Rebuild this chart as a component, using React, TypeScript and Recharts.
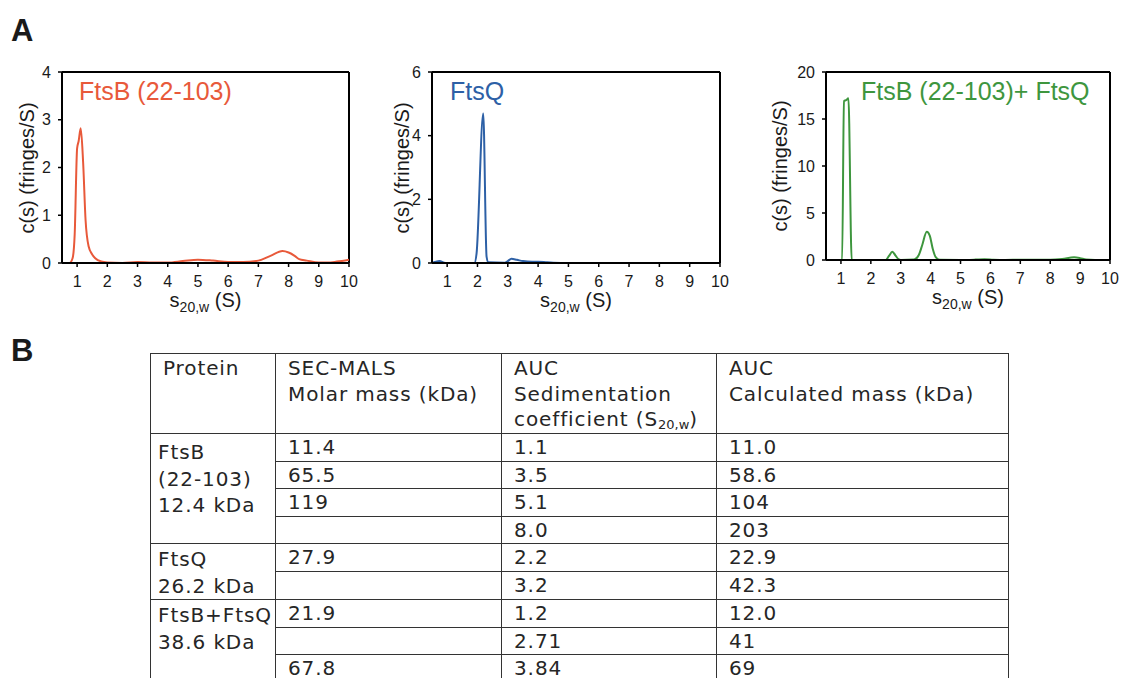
import React from "react";
import { LineChart, Line, XAxis, YAxis, ReferenceLine } from "recharts";

// sedimentation coefficient ticks shared by all three panels
const sTicks = [1, 2, 3, 4, 5, 6, 7, 8, 9, 10];

// FtsB (22-103)
const ftsbS = [0.5, 0.75, 0.85, 0.92, 1.0, 1.05, 1.12, 1.2, 1.28, 1.38, 1.5, 1.6, 1.8, 2.0, 2.5, 3.0, 3.5, 4.0, 4.5, 5.0, 5.5, 6.0, 6.5, 7.0, 7.4, 7.8, 8.0, 8.2, 8.35, 8.6, 9.0, 9.3, 9.6, 10];
const ftsbC = [0, 0, 0.1, 0.6, 2.4, 2.55, 2.82, 2.1, 0.9, 0.35, 0.18, 0.1, 0.03, 0.01, 0, 0.02, 0.01, 0.01, 0.04, 0.07, 0.05, 0.02, 0.02, 0.05, 0.15, 0.25, 0.22, 0.15, 0.08, 0.05, 0.01, 0.01, 0.03, 0.07];
const ftsbTicks = [0, 1, 2, 3, 4];

// FtsQ
const ftsqS = [0.5, 0.6, 0.75, 0.9, 1.0, 1.9, 1.97, 2.19, 2.3, 2.36, 2.9, 3.0, 3.12, 3.3, 3.5, 3.8, 4.0, 4.3, 4.5, 5.0, 10];
const ftsqC = [0, 0.03, 0.06, 0.01, 0, 0, 0.3, 4.7, 0.2, 0.02, 0.01, 0.06, 0.13, 0.1, 0.06, 0.04, 0.04, 0.02, 0.01, 0, 0];
const ftsqTicks = [0, 2, 4, 6];

// FtsB (22-103) + FtsQ
const mixS = [0.5, 1.04, 1.1, 1.17, 1.25, 1.36, 2.5, 2.6, 2.72, 2.82, 2.92, 3.0, 3.45, 3.6, 3.72, 3.87, 3.97, 4.07, 4.17, 4.3, 5.0, 5.5, 5.8, 6.1, 6.5, 7.0, 7.5, 8.0, 8.4, 8.8, 9.0, 9.2, 9.5, 10];
const mixC = [0, 0, 16.9, 17.0, 17.2, 0, 0, 0.4, 0.88, 0.5, 0.1, 0, 0.05, 0.5, 1.6, 3.0, 2.6, 1.2, 0.3, 0.02, 0, 0.04, 0.08, 0.03, 0, 0.03, 0.02, 0.02, 0.1, 0.28, 0.2, 0.05, 0, 0];
const mixTicks = [0, 5, 10, 15, 20];

// table B
const tableHeaders = ["Protein", "SEC-MALS", "AUC", "AUC"];
const proteinGroups = [
  { lines: ["FtsB", "(22-103)", "12.4 kDa"], rows: 4 },
  { lines: ["FtsQ", "26.2 kDa"], rows: 2 },
  { lines: ["FtsB+FtsQ", "38.6 kDa"], rows: 3 },
];
const secMals = ["11.4", "65.5", "119", "", "27.9", "", "21.9", "", "67.8"];
const sedCoef = ["1.1", "3.5", "5.1", "8.0", "2.2", "3.2", "1.2", "2.71", "3.84"];
const calcMass = ["11.0", "58.6", "104", "203", "22.9", "42.3", "12.0", "41", "69"];

const zip = (s: number[], c: number[]) => s.map((v, i) => ({ s: v, c: c[i] }));

const SANS = "'Liberation Sans', Arial, sans-serif";
const TABLE_FONT = "'DejaVu Sans', Verdana, sans-serif";

type PanelProps = {
  data: { s: number; c: number }[];
  color: string;
  yTicks: number[];
  plot: { left: number; top: number; width: number; height: number };
  title: string;
  titleX: number;
  yLabelX: number;
};

function Panel({ data, color, yTicks, plot, title, titleX, yLabelX }: PanelProps) {
  const yMax = yTicks[yTicks.length - 1];
  const tick = { fill: "#1a1a1a", fontSize: 16, fontFamily: SANS };
  return (
    <>
      <div style={{ position: "absolute", left: plot.left - 50, top: plot.top - 10 }}>
        <LineChart
          width={plot.width + 60}
          height={plot.height + 55}
          data={data}
          margin={{ top: 10, right: 10, left: 10, bottom: 15 }}
        >
          <XAxis
            dataKey="s"
            type="number"
            domain={[0.5, 10]}
            ticks={sTicks}
            interval={0}
            allowDataOverflow
            height={30}
            tickSize={4}
            tickMargin={9}
            tick={tick}
            axisLine={{ stroke: "#000", strokeWidth: 2 }}
            tickLine={{ stroke: "#000", strokeWidth: 1.5 }}
          />
          <YAxis
            type="number"
            domain={[0, yMax]}
            ticks={yTicks}
            interval={0}
            width={40}
            tickSize={4}
            tickMargin={7}
            tick={tick}
            axisLine={{ stroke: "#000", strokeWidth: 2 }}
            tickLine={{ stroke: "#000", strokeWidth: 1.5 }}
          />
          <ReferenceLine y={yMax} stroke="#000" strokeWidth={2} />
          <ReferenceLine x={10} stroke="#000" strokeWidth={2} />
          <Line
            dataKey="c"
            type="monotone"
            stroke={color}
            strokeWidth={2}
            dot={false}
            isAnimationActive={false}
          />
        </LineChart>
      </div>
      <div
        style={{
          position: "absolute",
          left: titleX,
          top: plot.top + 7,
          fontFamily: SANS,
          fontSize: 25,
          lineHeight: "25px",
          color,
          whiteSpace: "nowrap",
        }}
      >
        {title}
      </div>
      <div
        style={{
          position: "absolute",
          left: yLabelX,
          top: plot.top + plot.height / 2,
          transform: "translate(-50%, -50%) rotate(-90deg)",
          fontFamily: SANS,
          fontSize: 20,
          color: "#1a1a1a",
          whiteSpace: "nowrap",
        }}
      >
        c(s) (fringes/S)
      </div>
      <div
        style={{
          position: "absolute",
          left: plot.left + plot.width / 2,
          top: plot.top + plot.height + 27,
          transform: "translateX(-50%)",
          fontFamily: SANS,
          fontSize: 20,
          lineHeight: "20px",
          color: "#1a1a1a",
          whiteSpace: "nowrap",
        }}
      >
        s<sub style={{ fontSize: 14, verticalAlign: "-5px", lineHeight: 0 }}>20,w</sub> (S)
      </div>
    </>
  );
}

const cell: React.CSSProperties = {
  border: "1.5px solid #333",
  padding: "2px 0 0 12px",
  verticalAlign: "top",
  fontFamily: TABLE_FONT,
  fontSize: 20,
  letterSpacing: 0.9,
  color: "#262626",
  lineHeight: "23px",
  whiteSpace: "nowrap",
};

function ResultsTable() {
  const rows: React.ReactNode[] = [];
  let idx = 0;
  proteinGroups.forEach((g, gi) => {
    for (let r = 0; r < g.rows; r++) {
      const i = idx++;
      rows.push(
        <tr key={i} style={{ height: 27.5 }}>
          {r === 0 && (
            <td
              rowSpan={g.rows}
              style={{ ...cell, paddingLeft: 7, lineHeight: "26.5px", paddingTop: gi === 0 ? 5 : 2 }}
            >
              {g.lines.map((l) => (
                <div key={l}>{l}</div>
              ))}
            </td>
          )}
          <td style={cell}>{secMals[i]}</td>
          <td style={cell}>{sedCoef[i]}</td>
          <td style={cell}>{calcMass[i]}</td>
        </tr>
      );
    }
  });
  const head = { ...cell, lineHeight: "25.5px", paddingTop: 2 };
  return (
    <table
      style={{
        position: "absolute",
        left: 150,
        top: 353,
        width: 858,
        borderCollapse: "collapse",
        tableLayout: "fixed",
      }}
    >
      <colgroup>
        <col style={{ width: 125 }} />
        <col style={{ width: 226 }} />
        <col style={{ width: 215 }} />
        <col style={{ width: 292 }} />
      </colgroup>
      <tbody>
        <tr style={{ height: 80 }}>
          <td style={{ ...head, paddingLeft: 12 }}>{tableHeaders[0]}</td>
          <td style={head}>
            {tableHeaders[1]}
            <br />
            Molar mass (kDa)
          </td>
          <td style={head}>
            {tableHeaders[2]}
            <br />
            Sedimentation
            <br />
            coefficient (S
            <sub style={{ fontSize: 13, verticalAlign: "-3px", letterSpacing: 0, lineHeight: 0 }}>20,w</sub>)
          </td>
          <td style={head}>
            {tableHeaders[3]}
            <br />
            Calculated mass (kDa)
          </td>
        </tr>
        {rows}
      </tbody>
    </table>
  );
}

const panelLetter: React.CSSProperties = {
  position: "absolute",
  left: 11,
  fontFamily: SANS,
  fontWeight: 700,
  fontSize: 31,
  lineHeight: "31px",
  color: "#1a1a1a",
};

export default function App() {
  return (
    <div
      style={{
        position: "absolute",
        left: 0,
        top: 0,
        width: 1122,
        height: 678,
        overflow: "hidden",
        background: "#fff",
      }}
    >
      <div style={{ ...panelLetter, top: 15 }}>A</div>
      <Panel
        data={zip(ftsbS, ftsbC)}
        color="#e8593a"
        yTicks={ftsbTicks}
        plot={{ left: 62, top: 72, width: 287, height: 191 }}
        title="FtsB (22-103)"
        titleX={79}
        yLabelX={27}
      />
      <Panel
        data={zip(ftsqS, ftsqC)}
        color="#2d60a6"
        yTicks={ftsqTicks}
        plot={{ left: 432, top: 72, width: 288, height: 191 }}
        title="FtsQ"
        titleX={450}
        yLabelX={402}
      />
      <Panel
        data={zip(mixS, mixC)}
        color="#3e963e"
        yTicks={mixTicks}
        plot={{ left: 826, top: 72, width: 284, height: 188 }}
        title="FtsB (22-103)+ FtsQ"
        titleX={861}
        yLabelX={780}
      />
      <div style={{ ...panelLetter, top: 335 }}>B</div>
      <ResultsTable />
    </div>
  );
}
